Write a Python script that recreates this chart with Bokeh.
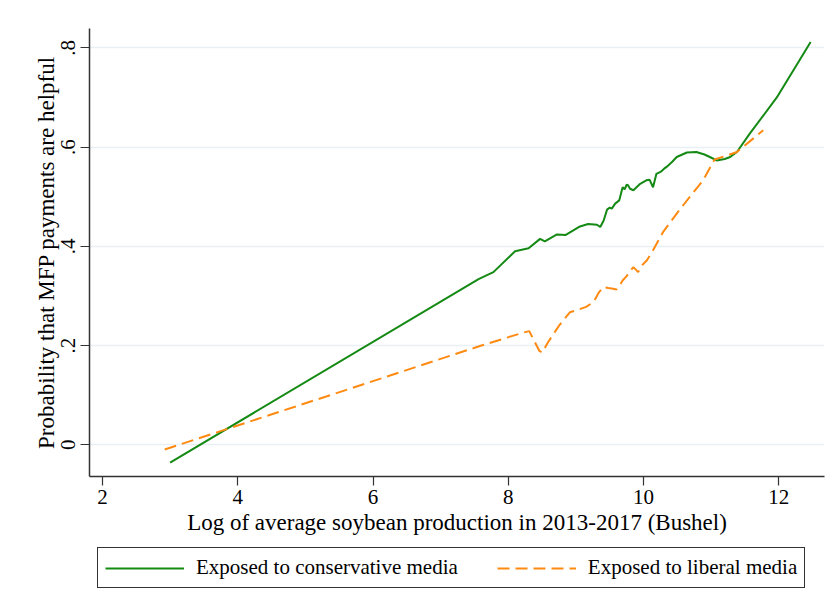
from bokeh.plotting import figure
from bokeh.models import FixedTicker, Legend, LegendItem, Range1d
from bokeh.layouts import column
from bokeh.embed import file_html
from bokeh.resources import INLINE

# Data
cons_x = [3.00, 7.56, 7.78, 8.10, 8.30, 8.47, 8.54, 8.72, 8.85, 9.06, 9.18, 9.31, 9.36,
          9.41, 9.46, 9.50, 9.53, 9.58, 9.64, 9.69, 9.72, 9.75, 9.77, 9.80, 9.85, 9.95,
          10.04, 10.09, 10.14, 10.19, 10.25, 10.30, 10.34, 10.42, 10.49, 10.64, 10.78,
          10.90, 10.98, 11.08, 11.20, 11.28, 11.38, 11.57, 11.97, 12.47]
cons_y = [-0.036, 0.334, 0.348, 0.390, 0.396, 0.415, 0.410, 0.424, 0.423, 0.440, 0.445, 0.4435, 0.439,
          0.452, 0.474, 0.478, 0.476, 0.486, 0.4925, 0.519, 0.515, 0.524, 0.523, 0.516, 0.513, 0.526,
          0.533, 0.534, 0.519, 0.546, 0.550, 0.556, 0.560, 0.570, 0.580, 0.589, 0.590,
          0.585, 0.580, 0.573, 0.576, 0.580, 0.590, 0.627, 0.700, 0.812]

lib_x = [2.92, 7.58, 8.22, 8.31, 8.46, 8.50, 8.59, 8.75, 8.91, 9.01, 9.15, 9.26, 9.33, 9.40,
         9.48, 9.55, 9.60, 9.65, 9.69, 9.75, 9.80, 9.85, 9.92, 9.98, 10.05, 10.14, 10.29,
         10.49, 10.69, 10.88, 11.05, 11.23, 11.38, 11.77]
lib_y = [-0.0095, 0.199, 0.226, 0.229, 0.189, 0.186, 0.207, 0.240, 0.267, 0.271, 0.278, 0.2876, 0.305, 0.318,
         0.316, 0.3145, 0.313, 0.322, 0.331, 0.340, 0.350, 0.358, 0.348, 0.362, 0.372, 0.392, 0.429,
         0.466, 0.501, 0.533, 0.575, 0.583, 0.590, 0.634]

x_ticks = [2, 4, 6, 8, 10, 12]
y_ticks = [0, 0.2, 0.4, 0.6, 0.8]
y_tick_labels = ["0", ".2", ".4", ".6", ".8"]

series_names = ["Exposed to conservative media", "Exposed to liberal media"]
x_title = "Log of average soybean production in 2013-2017 (Bushel)"
y_title = "Probability that MFP payments are helpful"

FONT = "Liberation Serif"
GREEN = "#148a14"
ORANGE = "#ff8a12"
LINE_STYLES = [dict(line_color=GREEN, line_width=2),
               dict(line_color=ORANGE, line_width=2, line_dash="12 6")]

# ---------------- main plot ----------------
p = figure(width=828, height=545, output_backend="svg", toolbar_location=None,
           x_range=Range1d(1.808, 12.675), y_range=Range1d(-0.064, 0.839),
           min_border_left=89, min_border_right=4, min_border_top=28, min_border_bottom=69)
p.outline_line_color = None
p.background_fill_color = "white"
p.border_fill_color = "white"

p.line(cons_x, cons_y, **LINE_STYLES[0])
p.line(lib_x, lib_y, **LINE_STYLES[1])

p.xaxis.ticker = FixedTicker(ticks=x_ticks)
p.yaxis.ticker = FixedTicker(ticks=y_ticks)
p.yaxis.major_label_overrides = {v: l for v, l in zip(y_ticks, y_tick_labels)}
p.yaxis.major_label_orientation = "vertical"
for ax in (p.xaxis[0], p.yaxis[0]):
    ax.axis_line_color = "#333333"
    ax.axis_line_width = 1.5
    ax.major_tick_line_color = "#333333"
    ax.major_tick_line_width = 1.2
    ax.major_tick_out = 9
    ax.major_tick_in = 0
    ax.minor_tick_line_color = None
    ax.major_label_text_font = FONT
    ax.major_label_text_font_size = "21px"
    ax.major_label_text_color = "black"
    ax.axis_label_text_font = FONT
    ax.axis_label_text_font_size = "23px"
    ax.axis_label_text_font_style = "normal"
    ax.axis_label_text_color = "black"
p.xaxis.axis_label = x_title
p.yaxis.axis_label = y_title
p.xaxis.major_label_standoff = 4
p.xaxis.axis_label_standoff = 3
p.yaxis.major_label_standoff = 5
p.yaxis.axis_label_standoff = 0

p.xgrid.grid_line_color = None
p.ygrid.grid_line_color = "#e9f0f3"
p.ygrid.grid_line_width = 1.5

# ---------------- legend strip ----------------
# Legend proxies draw the same series, but with ranges that keep them out of view.
q = figure(width=828, height=60, output_backend="svg", toolbar_location=None,
           x_range=Range1d(100, 101), y_range=Range1d(0, 1),
           min_border_left=0, min_border_right=0, min_border_top=0, min_border_bottom=0)
q.axis.visible = False
q.grid.visible = False
q.outline_line_color = None
q.background_fill_color = "white"
q.border_fill_color = "white"
k1 = q.line(cons_x, cons_y, **LINE_STYLES[0])
k2 = q.line(lib_x, lib_y, **LINE_STYLES[1])

legend = Legend(items=[LegendItem(label=series_names[0], renderers=[k1]),
                       LegendItem(label=series_names[1], renderers=[k2])],
                location=(8, 17), orientation="horizontal")
legend.label_text_font = FONT
legend.label_text_font_size = "21px"
legend.label_text_color = "black"
legend.glyph_width = 79
legend.glyph_height = 20
legend.label_height = 20
legend.label_standoff = 12
legend.spacing = 39
legend.padding = 7
legend.margin = 0
legend.border_line_color = "#333333"
legend.border_line_alpha = 1.0
legend.border_line_width = 1.5
legend.background_fill_color = "white"
legend.background_fill_alpha = 1
q.add_layout(legend, "center")

open("out.html", "w").write(file_html(column(p, q, spacing=0), INLINE))
